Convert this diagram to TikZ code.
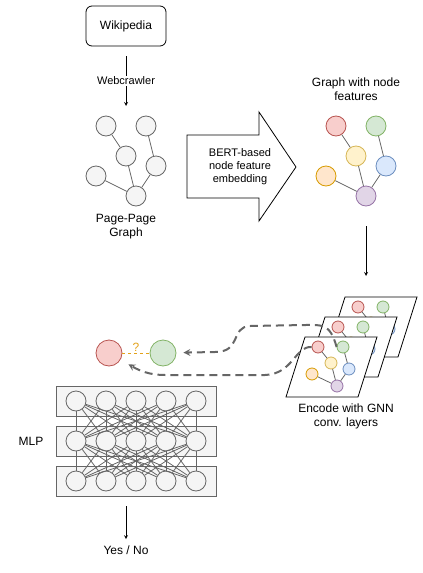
\documentclass[tikz,border=0pt]{standalone}
\usepackage{fontspec}
\setmainfont{Liberation Sans}
\usetikzlibrary{arrows}
\definecolor{gfill}{HTML}{F5F5F5}
\definecolor{gline}{HTML}{666666}
\definecolor{rdf}{HTML}{F8CECC}\definecolor{rdl}{HTML}{B85450}
\definecolor{grf}{HTML}{D5E8D4}\definecolor{grl}{HTML}{82B366}
\definecolor{ylf}{HTML}{FFF2CC}\definecolor{yll}{HTML}{D6B656}
\definecolor{blf}{HTML}{DAE8FC}\definecolor{bll}{HTML}{6C8EBF}
\definecolor{orf}{HTML}{FFE6CC}\definecolor{orl}{HTML}{D79B00}
\definecolor{ppf}{HTML}{E1D5E7}\definecolor{ppl}{HTML}{9673A6}
\definecolor{qmark}{HTML}{E3A21A}
\begin{document}
\begin{tikzpicture}[x=1pt,y=-1pt,>=stealth,line width=0.8pt,
        caption/.style={align=center,inner sep=1pt,font=\fontsize{12}{14}\selectfont},
        small/.style={align=center,inner sep=1pt,font=\fontsize{11}{13}\selectfont},
        wikibox/.style={draw=black,rounded corners=6pt,minimum width=80pt,minimum height=40pt,font=\fontsize{12}{14}\selectfont},
        page/.style={circle,inner sep=0,minimum size=20pt,draw=gline,fill=gfill},
        feat/.style 2 args={circle,inner sep=0,minimum size=20pt,draw=#1,fill=#2},
        tiny/.style={minimum size=12pt},
        gedge/.style={draw=gline},
        layer/.style={draw=black,fill=white},
        mlpbox/.style={draw=gline,fill=gfill,minimum width=160pt,minimum height=30pt,inner sep=0},
        flow/.style={->,draw=gline,line width=2pt,dash pattern=on 8pt off 5pt}]
        \useasboundingbox (0,0) rectangle (423,573);
        \node[wikibox] (wiki) at (126,26) {Wikipedia};
        \coordinate (crawl) at (126,106);
        \path[->] (wiki) edge[shorten <=10pt] node[pos=.58,fill=white,small] {Webcrawler} (crawl);
        \node[page] (p1) at (106,126) {};
        \node[page] (p2) at (146,126) {};
        \node[page] (p3) at (126,156) {};
        \node[page] (p4) at (156,166) {};
        \node[page] (p5) at (96,176) {};
        \node[page] (p6) at (136,196) {};
        \path[gedge] (p1) edge (p3) (p3) edge (p6) (p2) edge (p4) (p4) edge (p6) (p5) edge (p6);
        \node[caption] (pglbl) at (126,227) {Page-Page\\Graph};
        \draw (187,135) -- (259,135) -- (259,112) -- (296,167) -- (259,221) -- (259,198) -- (187,198) -- cycle;
        \node[small] (bert) at (240,167) {BERT-based\\node feature\\embedding};
        \node[caption] (ftlbl) at (356,89) {Graph with node\\features};
        \node[feat={rdl}{rdf}] (f1) at (336,126) {};
        \node[feat={grl}{grf}] (f2) at (376,126) {};
        \node[feat={yll}{ylf}] (f3) at (356,156) {};
        \node[feat={bll}{blf}] (f4) at (386,166) {};
        \node[feat={orl}{orf}] (f5) at (326,176) {};
        \node[feat={ppl}{ppf}] (f6) at (366,196) {};
        \path[gedge] (f1) edge (f3) (f3) edge (f6) (f2) edge (f4) (f4) edge (f6) (f5) edge (f6);
        \coordinate (encin) at (366,276);
        \path[->] (f6) edge[shorten <=20pt] (encin);
        \foreach \d in {2,1,0} {
          \begin{scope}[shift={(20*\d,-20*\d)}]
            \draw[layer] (305,337) -- (377,337) -- (358,397) -- (286,397) -- cycle;
            \node[feat={rdl}{rdf},tiny] (lr\d) at (318,347) {};
            \node[feat={grl}{grf},tiny] (lg\d) at (343,347) {};
            \node[feat={yll}{ylf},tiny] (ly\d) at (331,363) {};
            \node[feat={bll}{blf},tiny] (lb\d) at (349,369) {};
            \node[feat={orl}{orf},tiny] (lo\d) at (312,374) {};
            \node[feat={ppl}{ppf},tiny] (lp\d) at (337,386) {};
            \path[gedge] (lr\d) edge (ly\d) (ly\d) edge (lp\d) (lg\d) edge (lb\d) (lb\d) edge (lp\d) (lo\d) edge (lp\d);
          \end{scope}
        }
        \node[caption] (enclbl) at (346,416) {Encode with GNN\\conv. layers};
        \node[feat={rdl}{rdf},minimum size=26pt] (pr) at (109,353) {};
        \node[feat={grl}{grf},minimum size=26pt] (pg) at (163,353) {};
        \path[draw=qmark,dashed] (pr) edge node[above,text=qmark,caption] {?} (pg);
        \draw[flow,shorten >=7pt] (lg0.west) .. controls (330,323) and (322,325) .. (305,325) -- (250,326)
          .. controls (230,327) and (242,352) .. (215,352) -- (pg);
        \draw[flow,shorten >=9pt] (lr0.west) .. controls (295,346) and (293,374) .. (265,375) -- (165,375)
          .. controls (150,375) and (140,371) .. (pr);
        \foreach \r in {1,2,3}
          \node[mlpbox] (box\r) at (136,361+40*\r) {};
        \foreach \r in {1,2,3}
          \foreach \c in {1,...,5}
            \node[page] (m\r\c) at (46+30*\c,361+40*\r) {};
        \foreach \r/\s in {1/2,2/3}
          \foreach \a in {1,...,5}
            \foreach \b in {1,...,5}
              \draw[gedge] (m\r\a) -- (m\s\b);
        \node[caption] (mlplbl) at (31,441) {MLP};
        \node[caption] (yesno) at (126,550) {Yes / No};
        \path[->] (yesno |- box3.south) edge[shorten <=10pt,shorten >=5pt] (yesno);
      \end{tikzpicture}
\end{document}
